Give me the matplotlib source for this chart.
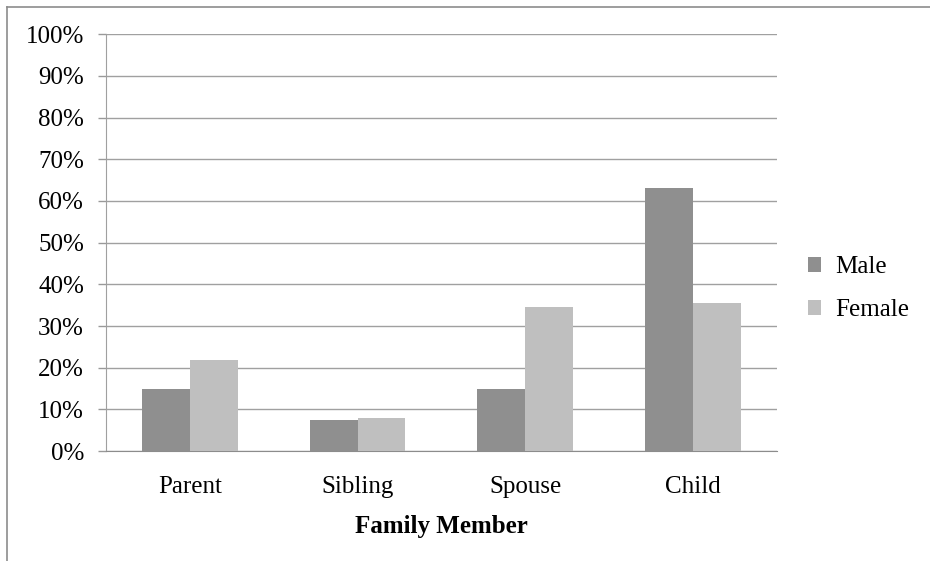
import numpy as np
import matplotlib.pyplot as plt
from matplotlib.lines import Line2D
from matplotlib.ticker import PercentFormatter

categories = ["Parent", "Sibling", "Spouse", "Child"]
male = [14.8, 7.4, 14.8, 63.0]
female = [21.8, 8.0, 34.5, 35.6]
series_names = ["Male", "Female"]

plt.rcParams["font.family"] = ["Liberation Serif", "DejaVu Serif"]

fig = plt.figure(figsize=(9.3, 5.61), dpi=100)
ax = fig.add_axes([0.114, 0.196, 0.7212, 0.7429])

x = np.arange(len(categories))
w = 1 / 3.5
ax.bar(x - w / 2, male, w, color="#8f8f8f", label=series_names[0], zorder=3)
ax.bar(x + w / 2, female, w, color="#bfbfbf", label=series_names[1], zorder=3)

ax.set_xlim(-0.5, len(categories) - 0.5)
ax.set_ylim(0, 100)
ax.set_yticks(np.arange(0, 101, 10))
ax.yaxis.set_major_formatter(PercentFormatter(decimals=0))
ax.set_xticks(x)
ax.set_xticklabels(categories)
ax.tick_params(axis="x", length=0, labelsize=18, pad=18)
ax.tick_params(axis="y", length=5.8, width=1, color="#999999", labelsize=18, pad=10)
ax.grid(axis="y", color="#a0a0a0", linewidth=1, zorder=0)

for side in ["top", "right"]:
    ax.spines[side].set_visible(False)
ax.spines["left"].set_color("#a0a0a0")
ax.spines["bottom"].set_color("#8c8c8c")

ax.set_xlabel("Family Member", fontsize=18, fontweight="bold", labelpad=12)

ax.legend(loc="center left", bbox_to_anchor=(1.046, 0.39), frameon=False,
          fontsize=18, handlelength=0.55, handleheight=0.55,
          handletextpad=0.55, labelspacing=0.85, borderaxespad=0, borderpad=0)

# chart border (left and top edges visible in the crop)
fig.add_artist(Line2D([7 / 930, 7 / 930], [0, 1 - 6.5 / 561],
                      transform=fig.transFigure, color="#8c8c8c", linewidth=1.2))
fig.add_artist(Line2D([7 / 930, 1], [1 - 6.5 / 561, 1 - 6.5 / 561],
                      transform=fig.transFigure, color="#8c8c8c", linewidth=1.2))

fig.savefig("out.png", dpi=100)
